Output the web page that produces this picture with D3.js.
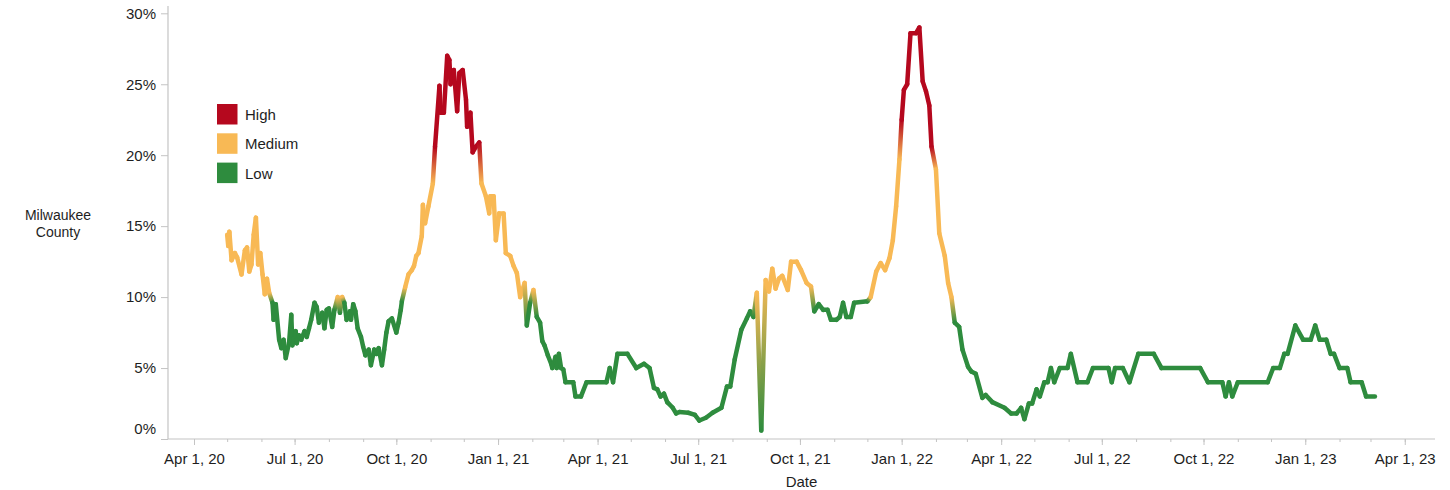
<!DOCTYPE html>
<html><head><meta charset="utf-8">
<script src="https://cdn.jsdelivr.net/npm/d3@7"></script>
<style>
html,body{margin:0;padding:0;background:#fff;}
svg{display:block;font-family:"Liberation Sans",Arial,sans-serif;}
</style></head><body>
<svg id="chart" width="1450" height="490"></svg>
<script>
const dates = [
"2020-05-01","2020-05-02","2020-05-03","2020-05-05","2020-05-08","2020-05-10","2020-05-14","2020-05-17","2020-05-19","2020-05-21",
"2020-05-23","2020-05-25","2020-05-27","2020-05-29","2020-05-31","2020-06-02","2020-06-04","2020-06-06","2020-06-08","2020-06-11",
"2020-06-12","2020-06-14","2020-06-17","2020-06-19","2020-06-21","2020-06-23","2020-06-26","2020-06-28","2020-06-29","2020-07-02",
"2020-07-03","2020-07-05","2020-07-07","2020-07-10","2020-07-12","2020-07-14","2020-07-16","2020-07-19","2020-07-21","2020-07-23",
"2020-07-26","2020-07-28","2020-07-30","2020-08-01","2020-08-04","2020-08-06","2020-08-09","2020-08-11","2020-08-13","2020-08-15",
"2020-08-17","2020-08-20","2020-08-21","2020-08-23","2020-08-25","2020-08-27","2020-08-30","2020-09-01","2020-09-03","2020-09-06",
"2020-09-08","2020-09-11","2020-09-13","2020-09-15","2020-09-18","2020-09-20","2020-09-22","2020-09-24","2020-09-27","2020-10-01",
"2020-10-03","2020-10-05","2020-10-06","2020-10-09","2020-10-12","2020-10-15","2020-10-17","2020-10-19","2020-10-21","2020-10-24",
"2020-10-25","2020-10-27","2020-10-30","2020-11-03","2020-11-05","2020-11-09","2020-11-10","2020-11-13","2020-11-16","2020-11-18",
"2020-11-19","2020-11-22","2020-11-25","2020-11-27","2020-11-30","2020-12-03","2020-12-04","2020-12-07","2020-12-09","2020-12-12",
"2020-12-15","2020-12-17","2020-12-21","2020-12-24","2020-12-25","2020-12-28","2020-12-30","2021-01-02","2021-01-06","2021-01-08",
"2021-01-12","2021-01-15","2021-01-18","2021-01-21","2021-01-25","2021-01-27","2021-01-30","2021-02-02","2021-02-05","2021-02-08",
"2021-02-10","2021-02-12","2021-02-15","2021-02-18","2021-02-19","2021-02-22","2021-02-23","2021-02-25","2021-02-27","2021-03-01",
"2021-03-03","2021-03-10","2021-03-12","2021-03-17","2021-03-22","2021-04-09","2021-04-12","2021-04-15","2021-04-19","2021-04-28",
"2021-05-06","2021-05-13","2021-05-18","2021-05-22","2021-05-25","2021-05-28","2021-05-31","2021-06-03","2021-06-08","2021-06-11",
"2021-06-14","2021-06-22","2021-06-28","2021-07-02","2021-07-08","2021-07-14","2021-07-22","2021-07-27","2021-07-30","2021-08-03",
"2021-08-09","2021-08-14","2021-08-17","2021-08-20","2021-08-23","2021-08-27","2021-08-31","2021-09-03","2021-09-06","2021-09-09",
"2021-09-12","2021-09-15","2021-09-20","2021-09-23","2021-09-28","2021-10-02","2021-10-07","2021-10-11","2021-10-14","2021-10-18",
"2021-10-22","2021-10-26","2021-10-29","2021-11-03","2021-11-06","2021-11-09","2021-11-12","2021-11-16","2021-11-19","2021-12-01",
"2021-12-04","2021-12-09","2021-12-13","2021-12-17","2021-12-21","2021-12-24","2021-12-27","2021-12-30","2022-01-01","2022-01-03",
"2022-01-06","2022-01-09","2022-01-14","2022-01-17","2022-01-20","2022-01-23","2022-01-26","2022-01-28","2022-02-01","2022-02-04",
"2022-02-09","2022-02-12","2022-02-15","2022-02-18","2022-02-22","2022-02-25","2022-03-02","2022-03-05","2022-03-09","2022-03-15",
"2022-03-18","2022-03-24","2022-04-04","2022-04-10","2022-04-15","2022-04-19","2022-04-22","2022-04-26","2022-04-29","2022-05-03",
"2022-05-06","2022-05-10","2022-05-13","2022-05-16","2022-05-19","2022-05-24","2022-05-31","2022-06-03","2022-06-09","2022-06-18",
"2022-06-23","2022-07-07","2022-07-10","2022-07-13","2022-07-20","2022-07-26","2022-08-03","2022-08-17","2022-08-24","2022-09-28",
"2022-10-05","2022-10-18","2022-10-21","2022-10-24","2022-10-27","2022-11-01","2022-11-28","2022-12-03","2022-12-09","2022-12-13",
"2022-12-16","2022-12-23","2022-12-30","2023-01-06","2023-01-10","2023-01-14","2023-01-20","2023-01-24","2023-01-27","2023-02-01",
"2023-02-08","2023-02-11","2023-02-21","2023-02-25","2023-03-05"
];
const rates = [
14.4,13.6,14.6,12.6,13.1,12.8,11.6,13.3,13.5,11.8,
12.3,14.4,15.6,12.3,13.1,11.6,10.2,11.3,10.3,9.6,
8.4,9.5,7.0,6.4,7.0,5.7,6.8,8.75,6.6,7.6,
6.75,7.3,7.0,7.6,7.2,7.8,8.4,9.6,9.3,8.2,
8.9,7.8,9.1,9.2,7.9,9.1,10.0,8.9,10.0,9.6,
8.4,9.0,8.4,9.5,9.0,7.8,7.2,6.5,5.9,6.3,
5.2,6.3,6.0,6.4,5.2,6.3,7.5,8.3,8.5,7.5,
8.2,9.1,9.7,10.7,11.6,11.9,12.2,12.9,13.1,14.3,
16.5,15.2,16.4,18.0,20.6,24.9,23.0,23.0,27.0,26.7,
25.0,26.0,23.1,25.8,26.0,23.9,22.0,23.0,20.2,20.6,
20.9,18.0,17.1,15.9,17.1,17.1,14.0,15.9,15.9,13.1,
12.9,12.2,11.7,10.0,11.0,8.0,9.6,10.5,8.6,8.2,
6.9,6.6,5.9,5.3,5.0,5.8,5.0,6.0,5.0,4.9,
4.0,4.0,3.0,3.0,4.0,4.0,5.0,4.0,6.0,6.0,
5.0,5.3,5.0,3.6,3.5,3.0,3.2,2.6,2.2,1.8,
1.9,1.85,1.7,1.3,1.5,1.85,2.2,3.7,3.7,5.6,
7.7,8.5,9.0,8.6,10.3,0.6,11.2,10.4,12.0,10.6,
11.3,11.5,10.5,12.5,12.5,11.9,11.0,10.75,9.0,9.5,
9.1,9.1,8.4,8.4,8.6,9.6,8.6,8.6,9.6,9.7,
10.0,11.8,12.4,11.9,12.75,14.0,16.4,19.7,22.5,24.6,
25.0,28.6,28.6,29.0,25.2,24.5,23.5,20.6,19.0,14.5,
12.9,11.0,10.0,8.2,7.9,6.3,5.1,4.75,4.6,2.9,
3.1,2.6,2.2,1.8,1.8,2.2,1.4,2.5,2.5,3.5,
3.0,4.0,4.0,5.0,4.0,5.0,5.0,6.0,4.0,4.0,
5.0,5.0,4.0,5.0,5.0,4.0,6.0,6.0,5.0,5.0,
4.0,4.0,3.0,4.0,3.0,4.0,4.0,5.0,5.0,6.0,
6.0,8.0,7.0,7.0,8.0,7.0,7.0,6.0,6.0,5.0,
5.0,4.0,4.0,3.0,3.0
];
const levelNames = ["High","Medium","Low"];
const levelColors = ["#b5081e","#f8b955","#2e8c3e"];
const levelThresholds = [20, 10];
const yTicks = [0,5,10,15,20,25,30];
const yTitle = ["Milwaukee","County"];
const xTitle = "Date";

const parse = d3.utcParse("%Y-%m-%d");
const data = dates.map((d,i)=>({date:parse(d), v:rates[i]}));
const level = v => v >= levelThresholds[0] ? 0 : (v >= levelThresholds[1] ? 1 : 2);

const svg = d3.select("#chart");
const x = d3.scaleUtc().domain([new Date(Date.UTC(2020,2,8,12)), new Date(Date.UTC(2023,3,28,8))]).range([168,1435]);
const y = d3.scaleLinear().domain([0,30]).range([439,13.3]);
const axisColor = "#c4c4c4";
const textColor = "#1e1e1e";

// Y axis
const gy = svg.append("g").attr("transform","translate(168,0)")
  .call(d3.axisLeft(y).tickValues(yTicks).tickFormat(d=>d+"%").tickSize(7).tickPadding(5));
gy.select(".domain").remove();
gy.selectAll(".tick line").attr("stroke",axisColor);
gy.selectAll(".tick text").attr("fill",textColor).style("font-size","15px");
gy.selectAll(".tick").filter(d=>d===0).select("text").attr("dy","-0.4em");
svg.append("line").attr("x1",168).attr("x2",168).attr("y1",6).attr("y2",y(0)).attr("stroke",axisColor).attr("stroke-width",1.2);

// X axis
const majorTicks = d3.utcMonths(new Date(Date.UTC(2020,3,1)), new Date(Date.UTC(2023,3,2)), 3);
const minorTicks = d3.utcMonths(new Date(Date.UTC(2020,3,1)), new Date(Date.UTC(2023,3,28)));
const gxm = svg.append("g").attr("transform",`translate(0,${y(0)})`)
  .call(d3.axisBottom(x).tickValues(minorTicks).tickSize(3).tickFormat(""));
gxm.select(".domain").remove();
gxm.selectAll(".tick line").attr("stroke",axisColor);
const gx = svg.append("g").attr("transform",`translate(0,${y(0)})`)
  .call(d3.axisBottom(x).tickValues(majorTicks).tickSize(6).tickPadding(8).tickFormat(d3.utcFormat("%b %-d, %y")));
gx.select(".domain").remove();
gx.selectAll(".tick line").attr("stroke",axisColor);
gx.selectAll(".tick text").attr("fill",textColor).style("font-size","15px");
svg.append("line").attr("x1",168).attr("x2",1435).attr("y1",y(0)).attr("y2",y(0)).attr("stroke",axisColor).attr("stroke-width",1.2);

// Titles
svg.append("text").attr("x",(168+1435)/2).attr("y",487).attr("text-anchor","middle")
  .attr("fill",textColor).style("font-size","15px").text(xTitle);
svg.append("text").attr("text-anchor","middle").attr("fill",textColor).style("font-size","14px")
  .selectAll("tspan").data(yTitle).join("tspan").attr("x",58).attr("y",(d,i)=>220+i*17).text(d=>d);

// Line as coloured segments
const defs = svg.append("defs");
const gLine = svg.append("g").attr("fill","none").attr("stroke-width",4.5).attr("stroke-linecap","round").attr("stroke-linejoin","round");
for (let i=0;i<data.length-1;i++){
  const a=data[i], b=data[i+1];
  const ca=level(a.v), cb=level(b.v);
  const x1=x(a.date), y1=y(a.v), x2=x(b.date), y2=y(b.v);
  let stroke = levelColors[ca];
  if (ca!==cb){
    const id="g"+i;
    const g=defs.append("linearGradient").attr("id",id).attr("gradientUnits","userSpaceOnUse")
      .attr("x1",x1).attr("y1",y1).attr("x2",x2).attr("y2",y2);
    g.append("stop").attr("offset",0).attr("stop-color",levelColors[ca]);
    g.append("stop").attr("offset",1).attr("stop-color",levelColors[cb]);
    stroke=`url(#${id})`;
  }
  gLine.append("line").attr("x1",x1).attr("y1",y1).attr("x2",x2).attr("y2",y2).attr("stroke",stroke);
}

// Legend
const lg = svg.append("g").attr("transform","translate(217,104)");
const items = lg.selectAll("g").data(levelNames).join("g").attr("transform",(d,i)=>`translate(0,${i*29.3})`);
items.append("rect").attr("width",20.5).attr("height",20.5).attr("fill",(d,i)=>levelColors[i]);
items.append("text").attr("x",28).attr("y",16).attr("fill",textColor).style("font-size","15px").text(d=>d);
</script>
</body></html>
